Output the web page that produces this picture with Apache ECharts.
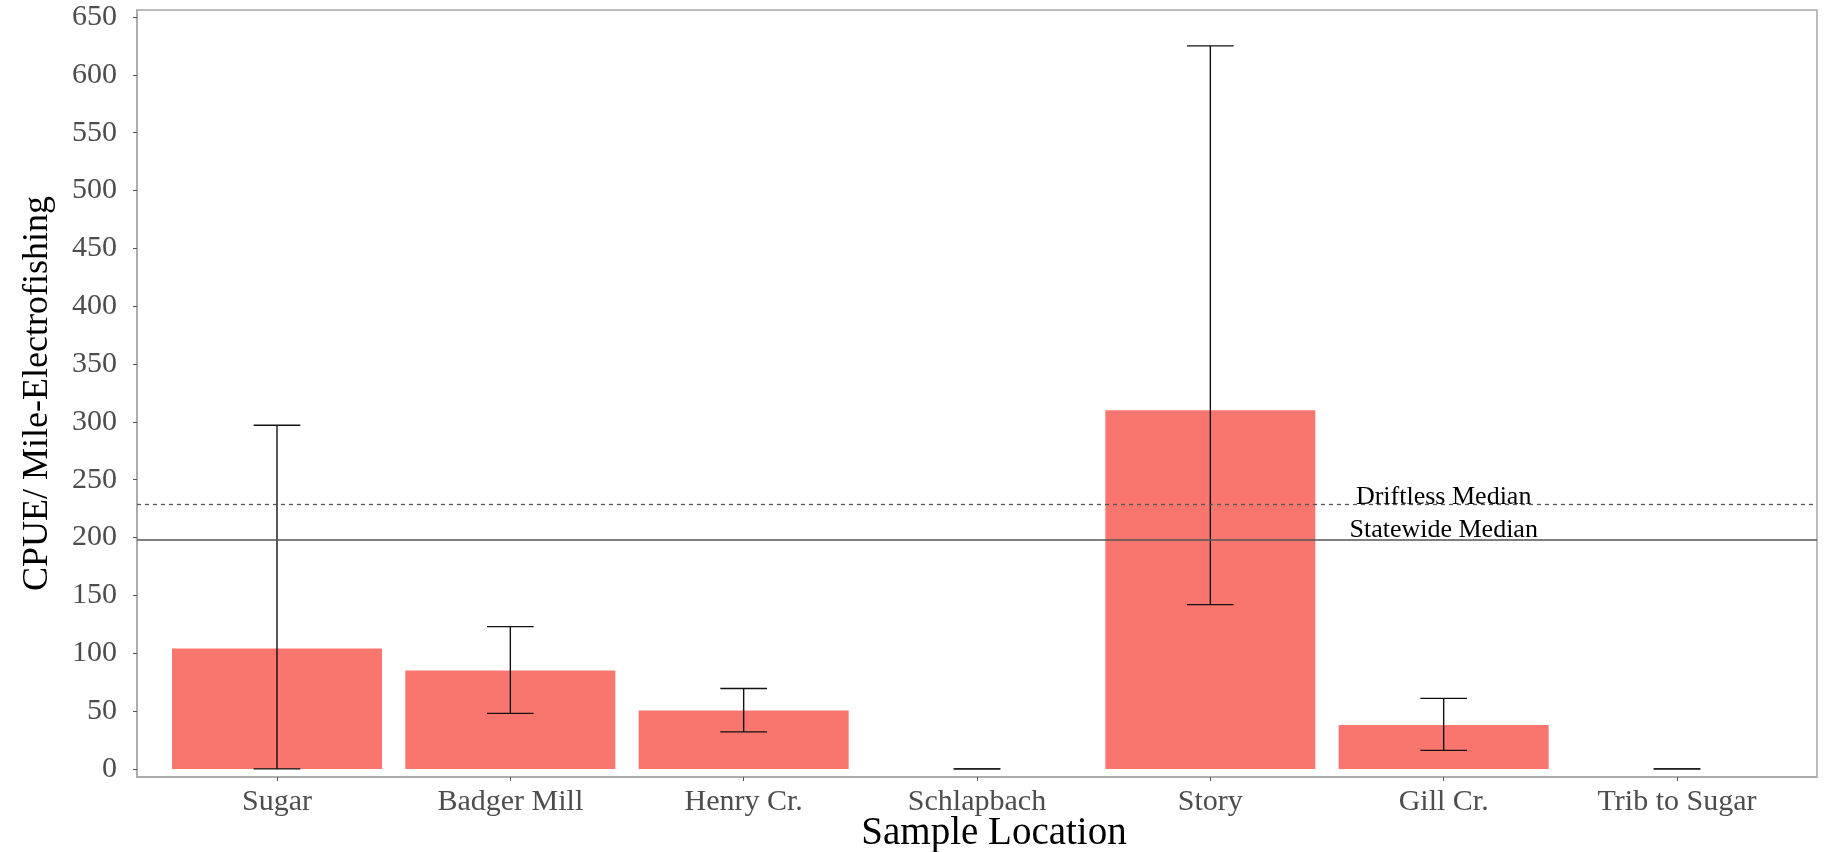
<!DOCTYPE html>
<html>
<head>
<meta charset="utf-8">
<script src="https://cdn.jsdelivr.net/npm/echarts@6/dist/echarts.min.js"></script>
<style>
  html, body { margin: 0; padding: 0; background: #fff; }
  #cpueChart { width: 1826px; height: 852px; }
</style>
</head>
<body>
<div id="cpueChart"></div>
<script>
  // values
  var sites = ['Sugar', 'Badger Mill', 'Henry Cr.', 'Schlapbach', 'Story', 'Gill Cr.', 'Trib to Sugar']
  var cpue = [104, 85, 50.5, 0, 310, 38, 0]
  var errLow = [0, 48, 32, 0, 142, 16, 0]
  var errHigh = [297, 123, 69.5, 0, 625, 61, 0]
  var yTicks = [0, 50, 100, 150, 200, 250, 300, 350, 400, 450, 500, 550, 600, 650]
  var statewideMedian = 198.5
  var driftlessMedian = 229
  var medianLabels = ['Driftless Median', 'Statewide Median']
  var medianLabelY = [235, 206]
  var medianLabelX = 5

  var serif = 'Liberation Serif'
  var barData = sites.map(function (s, i) { return [i, cpue[i]] })
  var errData = sites.map(function (s, i) { return [i, errLow[i], errHigh[i]] })
  var labelData = medianLabels.map(function (t, i) { return [medianLabelX, medianLabelY[i], t] })

  var chart = echarts.init(document.getElementById('cpueChart'))
  var option = {
    animation: false,
    grid: {
      left: 137,
      right: 9,
      top: 10,
      bottom: 75,
      outerBoundsMode: 'none',
      show: true,
      borderColor: '#a8a8a8',
      borderWidth: 1.5
    },
    xAxis: {
      type: 'value',
      min: -0.6,
      max: 6.6,
      name: 'Sample Location',
      nameLocation: 'middle',
      nameGap: 37,
      nameMoveOverlap: false,
      nameTextStyle: {
        color: '#000',
        fontFamily: serif,
        fontSize: 39,
        padding: [0, 0, 0, 34]
      },
      splitLine: { show: false },
      axisLine: { show: true, onZero: false, lineStyle: { color: '#a8a8a8', width: 1.5 } },
      axisTick: {
        show: true,
        length: 4,
        customValues: [0, 1, 2, 3, 4, 5, 6],
        lineStyle: { color: '#555' }
      },
      axisLabel: {
        customValues: [0, 1, 2, 3, 4, 5, 6],
        formatter: function (v) { return sites[Math.round(v)] },
        color: '#4d4d4d',
        fontFamily: serif,
        fontSize: 30,
        margin: 10
      }
    },
    yAxis: {
      type: 'value',
      min: -7,
      max: 656,
      name: 'CPUE/ Mile-Electrofishing',
      nameLocation: 'middle',
      nameGap: 81,
      nameMoveOverlap: false,
      nameTextStyle: {
        color: '#000',
        fontFamily: serif,
        fontSize: 36
      },
      splitLine: { show: false },
      axisLine: { show: true, onZero: false, lineStyle: { color: '#a8a8a8', width: 1.5 } },
      axisTick: {
        show: true,
        length: 4,
        customValues: yTicks,
        lineStyle: { color: '#555' }
      },
      axisLabel: {
        customValues: yTicks,
        color: '#4d4d4d',
        fontFamily: serif,
        fontSize: 30,
        margin: 20
      }
    },
    series: [{
      name: 'CPUE',
      type: 'custom',
      data: barData,
      renderItem: function (params, api) {
        var i = api.value(0)
        var v = api.value(1)
        var p0 = api.coord([i - 0.45, v])
        var p1 = api.coord([i + 0.45, 0])
        return {
          type: 'rect',
          shape: { x: p0[0], y: p0[1], width: p1[0] - p0[0], height: p1[1] - p0[1] },
          style: { fill: '#F8766D' }
        }
      },
      markLine: {
        silent: true,
        symbol: 'none',
        label: { show: false },
        data: [
          { yAxis: statewideMedian, lineStyle: { type: 'solid', color: '#555', width: 1.5 } },
          { yAxis: driftlessMedian, lineStyle: { type: [4, 4], color: '#555', width: 1.3 } }
        ]
      }
    }, {
      name: 'Error',
      type: 'custom',
      data: errData,
      renderItem: function (params, api) {
        var i = api.value(0)
        var lo = api.coord([i, api.value(1)])
        var hi = api.coord([i, api.value(2)])
        var capL = api.coord([i - 0.1, 0])[0]
        var capR = api.coord([i + 0.1, 0])[0]
        var st = { stroke: '#111', lineWidth: 1.4 }
        return {
          type: 'group',
          children: [
            { type: 'line', shape: { x1: lo[0], y1: lo[1], x2: hi[0], y2: hi[1] }, style: st },
            { type: 'line', shape: { x1: capL, y1: hi[1], x2: capR, y2: hi[1] }, style: st },
            { type: 'line', shape: { x1: capL, y1: lo[1], x2: capR, y2: lo[1] }, style: st }
          ]
        }
      }
    }, {
      name: 'Median labels',
      type: 'custom',
      data: labelData,
      renderItem: function (params, api) {
        var p = api.coord([api.value(0), api.value(1)])
        return {
          type: 'text',
          x: p[0],
          y: p[1],
          style: {
            text: labelData[params.dataIndex][2],
            fill: '#000',
            font: '26px "Liberation Serif"',
            align: 'center',
            verticalAlign: 'middle'
          }
        }
      }
    }]
  }
  chart.setOption(option)
</script>
</body>
</html>
